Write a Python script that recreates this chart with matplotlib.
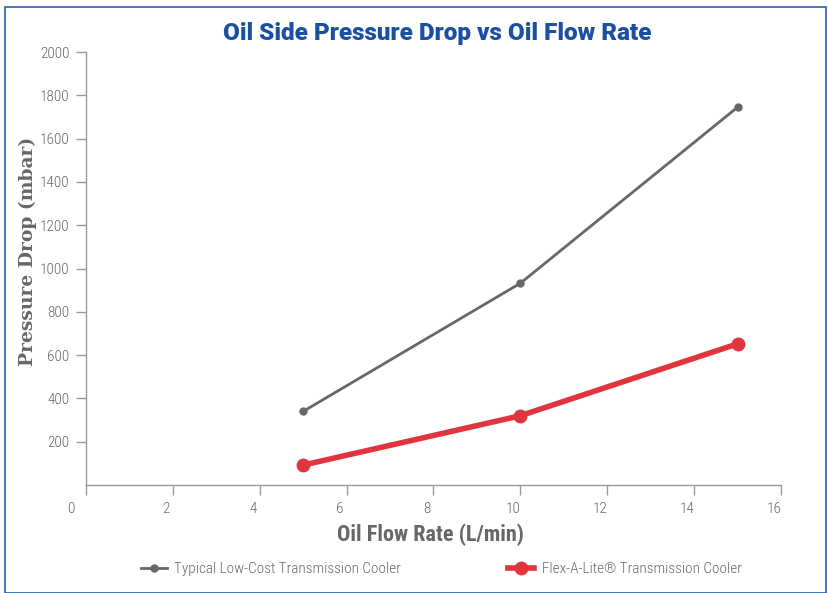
import matplotlib
matplotlib.use("Agg")
import matplotlib.pyplot as plt
import matplotlib.transforms as mtransforms
from matplotlib.patches import Rectangle

# datos
flow = [5, 10, 15]
typical = [340, 932, 1745]
flexalite = [92, 320, 652]
x_ticks = [0, 2, 4, 6, 8, 10, 12, 14, 16]
y_ticks = [200, 400, 600, 800, 1000, 1200, 1400, 1600, 1800, 2000]

gray = "#666769"
red = "#e1353e"
blue = "#1b4f9f"
axis_gray = "#9a9a9a"
narrow = ["Roboto Condensed", "DejaVu Sans"]

fig = plt.figure(figsize=(8.29, 5.93), dpi=100)
ax = fig.add_axes([86 / 829, 1 - 485 / 593, 695 / 829, 433 / 593])

ax.plot(flow, typical, color=gray, lw=2, marker="o", ms=5,
        label="Typical Low-Cost Transmission Cooler")
ax.plot(flow, flexalite, color=red, lw=4, marker="o", ms=9,
        label="Flex-A-Lite\u00ae Transmission Cooler")

ax.set_xlim(0, 16)
ax.set_ylim(0, 2000)
ax.set_xticks(x_ticks)
ax.set_yticks(y_ticks)
for s in ["top", "right"]:
    ax.spines[s].set_visible(False)
for s in ["left", "bottom"]:
    ax.spines[s].set_color(axis_gray)
    ax.spines[s].set_linewidth(1)
ax.tick_params(colors=axis_gray, length=7, width=1, labelcolor=gray)
ax.tick_params(axis="y", pad=5)
ax.tick_params(axis="x", pad=5)
for lab in ax.get_xticklabels() + ax.get_yticklabels():
    lab.set_family(narrow)
    lab.set_fontweight("light")
    lab.set_fontsize(11)

# etiquetas del eje x un poco corridas a la izquierda
for i, lab in enumerate(ax.get_xticklabels()):
    dx = -15 if i == 0 else -7
    lab.set_transform(lab.get_transform() +
                      mtransforms.ScaledTranslation(dx / 100, 0, fig.dpi_scale_trans))

ax.set_xlabel("Oil Flow Rate (L/min)", fontsize=16, fontweight="bold",
              color=gray, family=narrow)
ax.xaxis.set_label_coords(0.495, -0.088)
ax.set_ylabel("Pressure Drop (mbar)", fontsize=13.5, fontweight="bold",
              color=gray, family=["DejaVu Serif"])
ax.yaxis.set_label_coords(-0.07, 0.54)

fig.text(0.528, 0.944, "Oil Side Pressure Drop vs Oil Flow Rate", ha="center", va="center",
         fontsize=17.5, fontweight=900, color=blue, family=["Roboto", "DejaVu Sans"])

fig.legend(loc="center", bbox_to_anchor=(0.532, 0.04), ncol=2, frameon=False,
           columnspacing=7, handlelength=1.7, handletextpad=0.5,
           prop={"family": narrow, "size": 11, "weight": "light"}, labelcolor=gray)

# marco azul
fig.patches.append(Rectangle((5 / 829, 0), 821 / 829, 1 - 7 / 593, transform=fig.transFigure,
                             fill=False, edgecolor="#2b5fae", lw=1.2))

fig.savefig("out.png", dpi=100)
